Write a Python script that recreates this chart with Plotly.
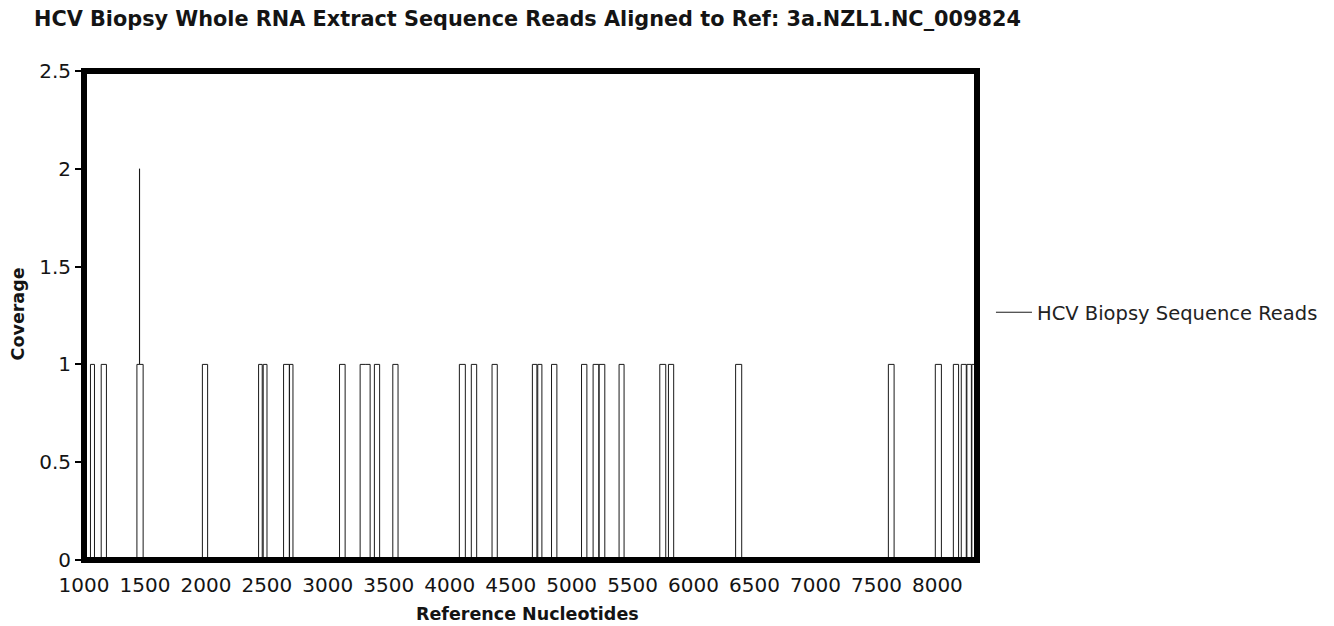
import plotly.graph_objects as go

# Aligned read intervals (reference nucleotide start / end)
read_starts = [1053, 1141, 1434, 1455, 1971, 2432, 2470, 2637, 2686, 3096,
               3265, 3306, 3382, 3533, 4079, 4177, 4347, 4678, 4722, 4835,
               5081, 5176, 5225, 5389, 5723, 5794, 6345, 7598, 7983, 8131,
               8196, 8242, 8283]
read_ends = [1086, 1184, 1456, 1485, 2014, 2462, 2501, 2684, 2714, 3142,
             3306, 3347, 3425, 3576, 4128, 4221, 4390, 4715, 4756, 4879,
             5125, 5223, 5272, 5430, 5772, 5837, 6395, 7645, 8033, 8174,
             8237, 8279, 8320]

x_start = 1000
x_end = 8325
x_ticks = [1000, 1500, 2000, 2500, 3000, 3500, 4000, 4500, 5000, 5500,
           6000, 6500, 7000, 7500, 8000]
y_ticks = [0, 0.5, 1, 1.5, 2, 2.5]
y_tick_labels = ["0", "0.5", "1", "1.5", "2", "2.5"]

title_text = "HCV Biopsy Whole RNA Extract Sequence Reads Aligned to Ref: 3a.NZL1.NC_009824"
series_name = "HCV Biopsy Sequence Reads"

# Build the coverage step profile from the read intervals
bounds = sorted(set([x_start, x_end] + read_starts + read_ends))
cov_x, cov_y = [], []
for b in bounds:
    c = sum(1 for s, e in zip(read_starts, read_ends) if s <= b < e)
    cov_x.append(b)
    cov_y.append(c)

FONT = "DejaVu Sans"
TXT = "#141414"

fig = go.Figure()
fig.add_trace(go.Scatter(
    x=cov_x, y=cov_y, mode="lines", name=series_name,
    line=dict(color="#1a1a1a", width=1, shape="hv"),
))

fig.update_layout(
    width=1334, height=626,
    margin=dict(l=84, r=356, t=71, b=66),
    paper_bgcolor="white", plot_bgcolor="white",
    showlegend=True,
    legend=dict(x=1.0145, y=0.506, xanchor="left", yanchor="middle",
                itemwidth=36,
                font=dict(family=FONT, size=19.5, color="#222"),
                bgcolor="rgba(0,0,0,0)", borderwidth=0),
    title=dict(text="<b>" + title_text + "</b>", x=34 / 1334, xanchor="left",
               xref="container", y=1 - 19 / 626, yanchor="middle", yref="container",
               font=dict(family=FONT, size=20.8, color=TXT)),
    font=dict(family=FONT, color=TXT),
)

fig.update_xaxes(
    range=[x_start, x_end], tickvals=x_ticks, ticktext=[str(v) for v in x_ticks],
    showgrid=False, zeroline=False, showline=False,
    ticks="outside", ticklen=7, tickwidth=1, tickcolor="rgba(0,0,0,0)",
    tickfont=dict(family=FONT, size=20, color=TXT),
)
fig.update_yaxes(
    range=[0, 2.5], tickvals=y_ticks, ticktext=y_tick_labels,
    showgrid=False, zeroline=False, showline=False,
    ticks="outside", ticklen=8, tickwidth=1.5, tickcolor="black",
    tickfont=dict(family=FONT, size=20, color=TXT),
)

# thick chart frame centred on the plot-area edges
fig.add_shape(type="rect", xref="paper", yref="paper", x0=0, x1=1, y0=0, y1=1,
              line=dict(color="black", width=6), fillcolor="rgba(0,0,0,0)",
              layer="above")

fig.add_annotation(text="<b>Coverage</b>", xref="paper", yref="paper",
                   x=-0.0735, y=0.503, textangle=-90, showarrow=False,
                   xanchor="center", yanchor="middle",
                   font=dict(family=FONT, size=17.5, color=TXT))
fig.add_annotation(text="<b>Reference Nucleotides</b>", xref="paper", yref="paper",
                   x=0.497, y=-0.11, showarrow=False,
                   xanchor="center", yanchor="middle",
                   font=dict(family=FONT, size=17.5, color=TXT))

fig.write_html("out.html")
